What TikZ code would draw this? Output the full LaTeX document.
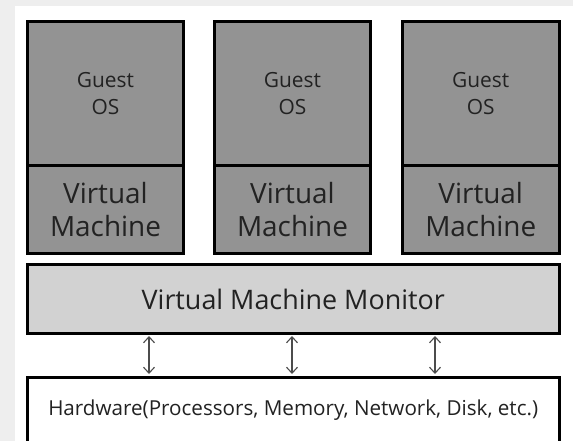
\documentclass[tikz,border=0pt]{standalone}
\usepackage{fontspec}
\setmainfont{Open Sans}
\usetikzlibrary{arrows.meta}
\definecolor{pagegray}{HTML}{EEEEEE}
\definecolor{guestgray}{HTML}{939393}
\definecolor{vmmgray}{HTML}{D2D2D2}
\definecolor{inkgray}{HTML}{222222}
\tikzset{
  layerbox/.style={draw=black, line width=3bp, inner sep=0pt, align=center, text=inkgray},
  guestbox/.style={layerbox, fill=guestgray, minimum height=144.5bp,
    font=\fontsize{21}{27}\selectfont},
  vmbox/.style={layerbox, fill=guestgray, minimum height=87.5bp,
    font=\fontsize{28}{33}\selectfont},
  vmmbox/.style={layerbox, fill=vmmgray, minimum width=531.5bp, minimum height=68bp,
    font=\fontsize{27}{30}\selectfont},
  hwbox/.style={layerbox, fill=white, minimum width=531.5bp, minimum height=66bp,
    font=\fontsize{20.7}{24}\selectfont},
  link/.style={draw=black!70, line width=1.1bp, shorten <=1.5bp, shorten >=1.5bp,
    {Straight Barb[length=6bp,width=11bp]}-{Straight Barb[length=6bp,width=11bp]}}
}
\begin{document}
\begin{tikzpicture}[x=1bp,y=-1bp]
 \useasboundingbox (0,0) rectangle (573,441);
 \fill[pagegray] (0,0) rectangle (573,441);
 \fill[white] (15,6) rectangle (573,441);
 \clip (0,0) rectangle (573,441);
 % three guests, each on its own VM
 \node[guestbox, minimum width=156bp] (guest1) at (105.5,93.75) {Guest\\OS};
 \node[guestbox, minimum width=156bp] (guest2) at (292.5,93.75) {Guest\\OS};
 \node[guestbox, minimum width=156.5bp] (guest3) at (480.75,93.75) {Guest\\OS};
 \node[vmbox, minimum width=156bp] (vm1) at (105.5,209.75) {Virtual\\Machine};
 \node[vmbox, minimum width=156bp] (vm2) at (292.5,209.75) {Virtual\\Machine};
 \node[vmbox, minimum width=156.5bp] (vm3) at (480.75,209.75) {Virtual\\Machine};
 % monitor and hardware
 \node[vmmbox] (vmm) at (293.25,299) {Virtual Machine Monitor};
 \node[hwbox] (hw) at (293.25,410) {Hardware(Processors, Memory, Network, Disk, etc.)};
 \coordinate (tap1) at (149,0);
 \coordinate (tap2) at (292,0);
 \coordinate (tap3) at (435,0);
 \draw[link] (vmm.south -| tap1) -- (hw.north -| tap1);
 \draw[link] (vmm.south -| tap2) -- (hw.north -| tap2);
 \draw[link] (vmm.south -| tap3) -- (hw.north -| tap3);
\end{tikzpicture}
\end{document}
